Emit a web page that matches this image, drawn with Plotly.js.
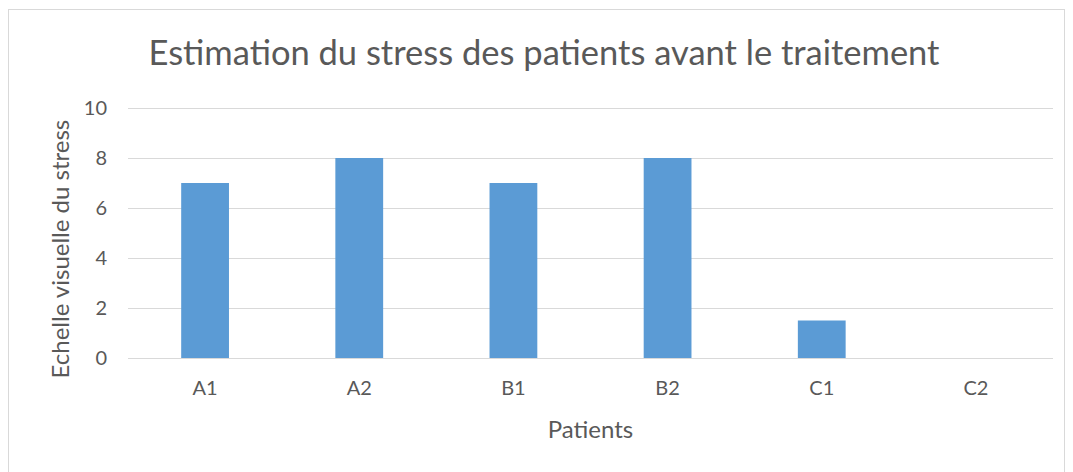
<!DOCTYPE html>
<html><head><meta charset="utf-8">
<script src="https://cdn.plot.ly/plotly-3.0.1.min.js"></script>
<style>
html,body{margin:0;padding:0;background:#fff;}
#wrap{position:absolute;left:0;top:0;width:1073px;height:472px;}
#frame{position:absolute;left:8px;top:9px;width:1057px;height:470px;border:1px solid #d9d9d9;box-sizing:border-box;pointer-events:none;}
#chart{position:absolute;left:0;top:0;width:1073px;height:472px;}
</style></head>
<body>
<div id="wrap"><div id="chart"></div><div id="frame"></div></div>
<script>
const categories = ["A1","A2","B1","B2","C1","C2"];
const stressValues = [7, 8, 7, 8, 1.5, 0];
const yTicks = [0, 2, 4, 6, 8, 10];
const yTitle = 'Echelle visuelle du stress';

const font = "Lato, 'Open Sans', 'Noto Sans', sans-serif";
Plotly.newPlot('chart', [{
  type: 'bar',
  x: categories,
  y: stressValues,
  marker: {color: '#5b9bd5'},
  hoverinfo: 'x+y'
}], {
  width: 1073, height: 472,
  margin: {l: 128, r: 20, t: 105, b: 114},
  paper_bgcolor: '#ffffff', plot_bgcolor: '#ffffff',
  bargap: 0.69,
  showlegend: false,
  title: {text: 'Estimation du stress des patients avant le traitement',
    font: {family: font, size: 34.5, color: '#595959'},
    x: 0.507, xanchor: 'center', y: 0.888, yanchor: 'middle'},
  xaxis: {
    showgrid: false, zeroline: false, showline: false, ticks: '',
    tickfont: {family: font, size: 20, color: '#595959'},
    ticklabelstandoff: 16,
    title: {text: 'Patients', font: {family: font, size: 24, color: '#595959'}, standoff: 23}
  },
  yaxis: {
    range: [0, 10.12], tickvals: yTicks, ticktext: yTicks.map(String),
    showgrid: true, gridcolor: '#d9d9d9', gridwidth: 1.3,
    zeroline: true, zerolinecolor: '#d9d9d9', zerolinewidth: 1.3,
    showline: false, ticks: '',
    tickfont: {family: font, size: 20, color: '#595959'},
    ticklabelstandoff: 20
  },
  annotations: [{
    text: yTitle, textangle: -90, showarrow: false,
    xref: 'paper', yref: 'paper', x: -0.074, y: 0.431,
    xanchor: 'center', yanchor: 'middle',
    font: {family: font, size: 24, color: '#595959'}
  }]
}, {displayModeBar: false});
</script>
</body></html>
